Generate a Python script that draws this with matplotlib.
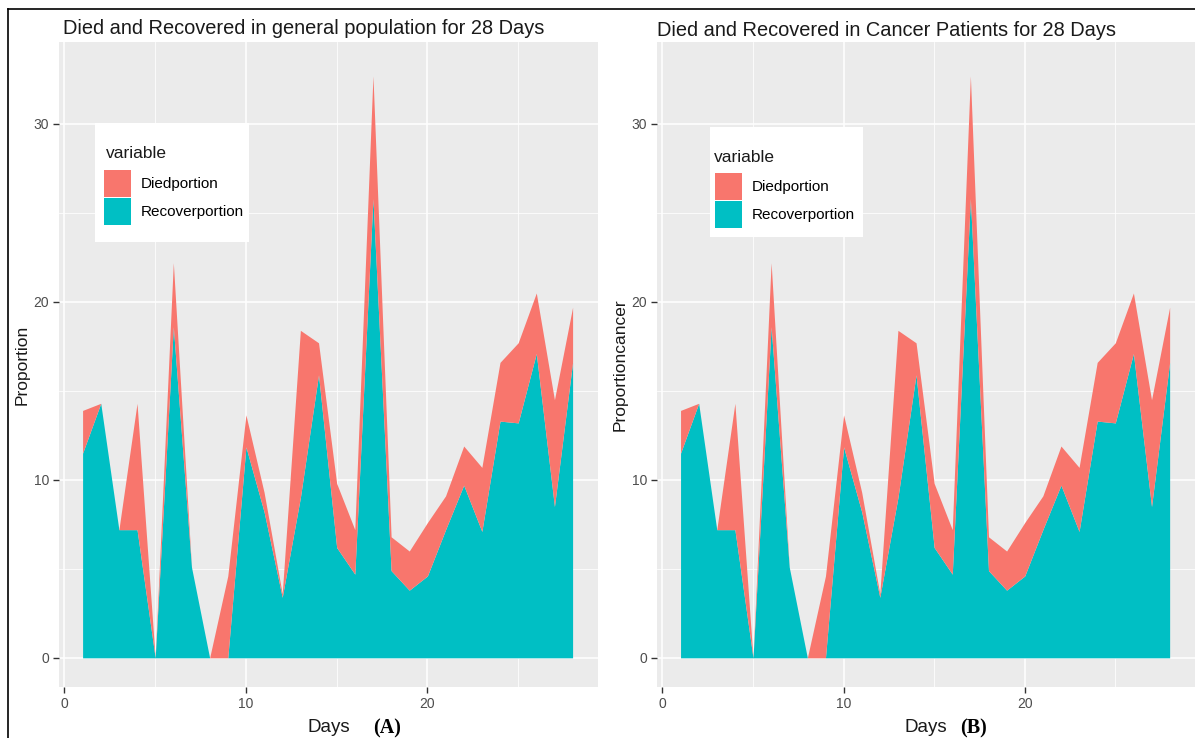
import numpy as np
import matplotlib.pyplot as plt
from matplotlib.patches import Patch, Rectangle
from matplotlib.lines import Line2D

# 数据：每天的恢复比例和死亡比例（堆叠面积图）
days = np.arange(1, 29)
recover = [11.5, 14.3, 7.2, 7.2, 0.0, 18.6, 5.1, 0.0, 0.0, 11.85,
           8.2, 3.4, 9.0, 15.9, 6.2, 4.7, 25.8, 4.9, 3.8, 4.6,
           7.2, 9.7, 7.1, 13.3, 13.2, 17.1, 8.5, 16.6]
died = [2.4, 0.0, 0.0, 7.1, 0.0, 3.6, 0.0, 0.0, 4.6, 1.8,
        1.1, 0.2, 9.4, 1.8, 3.6, 2.5, 6.9, 1.9, 2.2, 3.0,
        1.9, 2.2, 3.6, 3.3, 4.5, 3.4, 6.0, 3.1]

titles = ['Died and Recovered in general population for 28 Days',
          'Died and Recovered in Cancer Patients for 28 Days']
ylabels = ['Proportion', 'Proportioncancer']
tags = ['(A)', '(B)']
legend_labels = ['Diedportion', 'Recoverportion']

red = '#F8766D'
teal = '#00BFC4'

plt.rcParams['font.family'] = ['Liberation Sans', 'DejaVu Sans']

W, H = 1195, 738
fig = plt.figure(figsize=(W / 100, H / 100), dpi=100)

recover = np.array(recover)
total = recover + np.array(died)

# 面板位置（像素）：左, 上, 右, 下
panels = [(59, 42, 598, 687), (657, 42, 1195, 687)]
title_x = [63, 657]
title_pad = [6, 4]
# 图例：白框(左,上,右,下)、标题位置、色块左上角
leg_box = [(95, 123, 249, 242), (710, 127, 863, 237)]
leg_title = [(106, 153), (714, 157)]
leg_keys = [(104, 170), (715, 173)]
tag_x = [387, 973]


def to_axes(ax_px, x, y):
    l, t, r, b = ax_px
    return (x - l) / (r - l), (b - y) / (b - t)


for i in range(2):
    l, t, r, b = panels[i]
    ax = fig.add_axes([l / W, 1 - b / H, (r - l) / W, (b - t) / H])
    ax.set_facecolor('#EBEBEB')
    ax.fill_between(days, 0, recover, color=teal, lw=0)
    ax.fill_between(days, recover, total, color=red, lw=0)

    ax.set_xlim(-0.3, 29.4)
    ax.set_ylim(-1.64, 34.6)
    ax.set_xticks([0, 10, 20])
    ax.set_yticks([0, 10, 20, 30])
    ax.set_xticks([5, 15, 25], minor=True)
    ax.set_yticks([5, 15, 25], minor=True)
    ax.grid(which='major', color='white', lw=1.1)
    ax.grid(which='minor', color='white', lw=0.55)
    ax.set_axisbelow(True)
    for s in ax.spines.values():
        s.set_visible(False)
    ax.tick_params(which='major', length=4, width=1, color='#333333',
                   labelcolor='#4D4D4D', labelsize=10, pad=3)
    ax.tick_params(which='minor', length=0)

    ax.set_title(titles[i], loc='left', fontsize=14.4, color='#1A1A1A',
                 x=(title_x[i] - l) / (r - l), pad=title_pad[i])
    ax.set_xlabel('Days', fontsize=13.5, color='#1A1A1A', labelpad=6)
    ax.set_ylabel(ylabels[i], fontsize=12.5, color='#1A1A1A', labelpad=3)

    # 图例
    bx0, by0 = to_axes(panels[i], leg_box[i][0], leg_box[i][3])
    bx1, by1 = to_axes(panels[i], leg_box[i][2], leg_box[i][1])
    ax.add_patch(Rectangle((bx0, by0), bx1 - bx0, by1 - by0,
                           transform=ax.transAxes, facecolor='white',
                           edgecolor='none', zorder=4))
    tx, ty = to_axes(panels[i], *leg_title[i])
    ax.text(tx, ty, 'variable', transform=ax.transAxes, fontsize=12.5,
            color='#1A1A1A', ha='left', va='center', zorder=5)
    handles = [Patch(facecolor=red, edgecolor='none'),
               Patch(facecolor=teal, edgecolor='none')]
    leg = ax.legend(handles, legend_labels, loc='upper left',
                    bbox_to_anchor=to_axes(panels[i], *leg_keys[i]),
                    borderaxespad=0, borderpad=0, frameon=False,
                    fontsize=11, handlelength=1.77, handleheight=2.34,
                    labelspacing=0.05, handletextpad=0.65)
    leg.set_zorder(6)

    fig.text(tag_x[i] / W, 1 - 728 / H, tags[i], fontsize=14.5,
             fontweight='bold', family='Liberation Serif',
             ha='center', va='center')

# 外框线
fig.add_artist(Line2D([8 / W, 8 / W], [0, 1 - 9 / H], color='black', lw=1.2))
fig.add_artist(Line2D([8 / W, 1], [1 - 9 / H, 1 - 9 / H], color='black', lw=1.2))

plt.savefig('out.png', dpi=100)
